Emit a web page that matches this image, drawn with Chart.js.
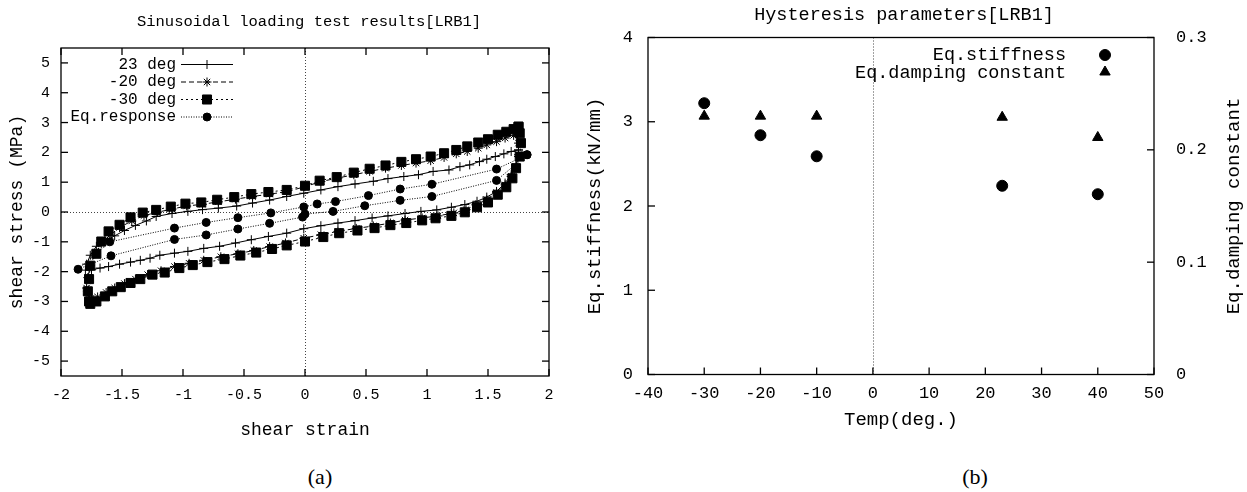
<!DOCTYPE html>
<html>
<head>
<meta charset="utf-8">
<script src="https://cdn.jsdelivr.net/npm/chart.js@4.4.1/dist/chart.umd.min.js"></script>
<style>
  html, body { margin: 0; padding: 0; background: #fff; }
  body { width: 1247px; height: 492px; position: relative; overflow: hidden; }
  .panel { position: absolute; top: 0; height: 450px; }
  #leftWrap { left: 0; width: 600px; }
  #rightWrap { left: 560px; width: 687px; }
  .cap { position: absolute; top: 464px; font-family: "Liberation Serif", serif; font-size: 22px; transform: translateX(-50%); }
</style>
</head>
<body>
<div class="panel" id="leftWrap"><canvas id="loops" width="600" height="450"></canvas></div>
<div class="panel" id="rightWrap"><canvas id="params" width="687" height="450"></canvas></div>
<div class="cap" style="left:320px">(a)</div>
<div class="cap" style="left:975px">(b)</div>
<script>
// (a) hysteresis loops: upper branch right->left, then lower branch left->right
const strain23 = [1.75, 1.69, 1.63, 1.56, 1.49, 1.43, 1.35, 1.27, 1.18, 1.05, 0.93, 0.81, 0.68, 0.56, 0.41, 0.27, 0.13, -0.01, -0.15, -0.29, -0.43, -0.56, -0.71, -0.84, -0.96, -1.09, -1.22, -1.30, -1.39, -1.48, -1.56, -1.64, -1.71, -1.76, -1.79, -1.80,
  -1.75, -1.68, -1.61, -1.52, -1.43, -1.35, -1.27, -1.19, -1.07, -0.96, -0.83, -0.70, -0.57, -0.44, -0.30, -0.15, -0.01, 0.13, 0.27, 0.41, 0.55, 0.68, 0.82, 0.95, 1.08, 1.20, 1.31, 1.41, 1.49, 1.57, 1.64, 1.69, 1.73, 1.75, 1.75];
const stress23 = [2.08, 2.03, 1.95, 1.86, 1.77, 1.69, 1.58, 1.52, 1.41, 1.36, 1.25, 1.19, 1.12, 1.03, 0.94, 0.85, 0.74, 0.63, 0.52, 0.40, 0.30, 0.20, 0.13, 0.08, 0.02, -0.05, -0.15, -0.30, -0.45, -0.62, -0.80, -0.97, -1.15, -1.45, -1.75, -1.95,
  -1.94, -1.88, -1.83, -1.75, -1.68, -1.62, -1.55, -1.45, -1.38, -1.32, -1.22, -1.15, -1.04, -0.93, -0.82, -0.71, -0.56, -0.46, -0.37, -0.29, -0.20, -0.13, -0.05, 0.02, 0.07, 0.16, 0.25, 0.36, 0.50, 0.69, 0.97, 1.25, 1.58, 1.86, 2.08];

const strainM20 = [1.74, 1.71, 1.64, 1.57, 1.49, 1.42, 1.33, 1.24, 1.14, 1.03, 0.91, 0.79, 0.66, 0.53, 0.40, 0.27, 0.13, 0.00, -0.15, -0.29, -0.43, -0.57, -0.71, -0.84, -0.97, -1.09, -1.21, -1.32, -1.42, -1.52, -1.60, -1.67, -1.72, -1.76, -1.78, -1.79, -1.78, -1.75,
  -1.70, -1.63, -1.56, -1.48, -1.39, -1.29, -1.18, -1.07, -0.95, -0.83, -0.69, -0.55, -0.42, -0.29, -0.16, -0.01, 0.13, 0.27, 0.42, 0.56, 0.70, 0.82, 0.96, 1.09, 1.22, 1.32, 1.40, 1.49, 1.57, 1.64, 1.69, 1.73, 1.75, 1.75, 1.74];
const stressM20 = [2.62, 2.57, 2.48, 2.36, 2.25, 2.14, 2.03, 1.95, 1.83, 1.72, 1.64, 1.56, 1.47, 1.36, 1.25, 1.14, 1.02, 0.85, 0.68, 0.60, 0.52, 0.43, 0.34, 0.26, 0.20, 0.10, -0.01, -0.12, -0.30, -0.52, -0.78, -1.06, -1.40, -1.80, -2.20, -2.55, -2.78, -2.88,
  -2.85, -2.70, -2.55, -2.40, -2.25, -2.10, -1.97, -1.83, -1.72, -1.62, -1.50, -1.40, -1.29, -1.16, -1.04, -0.88, -0.76, -0.65, -0.55, -0.47, -0.37, -0.27, -0.20, -0.13, -0.03, 0.08, 0.24, 0.41, 0.65, 0.91, 1.19, 1.52, 1.92, 2.31, 2.62];

const strainM30 = [1.75, 1.71, 1.65, 1.58, 1.50, 1.42, 1.33, 1.24, 1.14, 1.03, 0.91, 0.79, 0.66, 0.53, 0.40, 0.26, 0.12, 0.00, -0.15, -0.30, -0.44, -0.58, -0.72, -0.85, -0.98, -1.10, -1.22, -1.33, -1.43, -1.52, -1.61, -1.67, -1.71, -1.76, -1.77, -1.78, -1.77, -1.76,
  -1.71, -1.64, -1.58, -1.51, -1.43, -1.35, -1.25, -1.15, -1.03, -0.92, -0.80, -0.66, -0.53, -0.40, -0.27, -0.15, 0.00, 0.15, 0.28, 0.43, 0.57, 0.70, 0.83, 0.96, 1.07, 1.20, 1.31, 1.41, 1.50, 1.58, 1.65, 1.70, 1.73, 1.76, 1.77, 1.76, 1.75];
const stressM30 = [2.86, 2.78, 2.69, 2.59, 2.44, 2.33, 2.20, 2.08, 1.97, 1.86, 1.77, 1.68, 1.56, 1.45, 1.32, 1.17, 1.05, 0.88, 0.74, 0.67, 0.60, 0.50, 0.41, 0.32, 0.28, 0.18, 0.07, -0.02, -0.18, -0.43, -0.65, -0.99, -1.40, -1.80, -2.25, -2.66, -3.00, -3.08,
  -3.00, -2.83, -2.66, -2.52, -2.38, -2.25, -2.10, -2.03, -1.88, -1.78, -1.68, -1.58, -1.46, -1.36, -1.24, -1.12, -0.99, -0.84, -0.71, -0.62, -0.54, -0.44, -0.37, -0.28, -0.21, -0.13, -0.01, 0.16, 0.32, 0.58, 0.83, 1.13, 1.47, 1.86, 2.31, 2.64, 2.86];

const strainEq = [1.82, 1.57, 1.04, 0.78, 0.52, 0.25, 0.10, -0.01, -0.28, -0.55, -0.81, -1.07, -1.60, -1.86,
  -1.59, -1.07, -0.81, -0.55, -0.29, -0.02, 0.00, 0.23, 0.49, 0.78, 1.04, 1.57, 1.82];
const stressEq = [1.92, 1.44, 0.93, 0.77, 0.55, 0.35, 0.27, 0.17, -0.03, -0.19, -0.35, -0.54, -1.00, -1.92,
  -1.47, -0.92, -0.77, -0.57, -0.38, -0.17, -0.07, 0.02, 0.21, 0.39, 0.52, 1.06, 1.92];

const strainTicks = [-2, -1.5, -1, -0.5, 0, 0.5, 1, 1.5, 2];
const stressTicks = [-5, -4, -3, -2, -1, 0, 1, 2, 3, 4, 5];

// (b) hysteresis parameters
const tempDeg = [-30, -20, -10, 23, 40];
const eqStiffness = [3.22, 2.84, 2.59, 2.24, 2.14];
const eqDamping = [0.230, 0.230, 0.230, 0.229, 0.211];

const tempTicks = [-40, -30, -20, -10, 0, 10, 20, 30, 40, 50];
const stiffTicks = [0, 1, 2, 3, 4];
const dampTicks = [0, 0.1, 0.2, 0.3];

const MONO = '"Liberation Mono", "DejaVu Sans Mono", monospace';
Chart.defaults.color = '#000';
Chart.defaults.font.family = MONO;

function xy(xs, ys) { return xs.map((x, i) => ({ x: x, y: ys[i] })); }
function fixTicks(list) { return scale => { scale.ticks = list.map(v => ({ value: v })); }; }
function fixWidth(w) { return scale => { scale.width = w; }; }
function fixHeight(h) { return scale => { scale.height = h; }; }

function seg(ctx, x1, y1, x2, y2) {
  ctx.beginPath(); ctx.moveTo(x1, y1); ctx.lineTo(x2, y2); ctx.stroke();
}

// gnuplot look: closed frame, inward ticks, dotted zero axes, title and key drawn by hand
const gnuFrame = {
  id: 'gnuFrame',
  beforeDatasetsDraw(chart, args, o) {
    const { ctx, chartArea: a, scales } = chart;
    ctx.save();
    ctx.strokeStyle = '#444';
    ctx.lineWidth = 1;
    ctx.setLineDash([1, 2]);
    if (o.zeroX) {
      const px = Math.round(scales.x.getPixelForValue(0)) + 0.5;
      seg(ctx, px, a.top, px, a.bottom);
    }
    if (o.zeroY) {
      const py = Math.round(scales.y.getPixelForValue(0)) + 0.5;
      seg(ctx, a.left, py, a.right, py);
    }
    ctx.restore();
  },
  afterDatasetsDraw(chart, args, o) {
    const { ctx, chartArea: a, scales } = chart;
    const t = 7;
    ctx.save();
    ctx.strokeStyle = '#000';
    ctx.lineWidth = 1.3;
    ctx.strokeRect(a.left, a.top, a.right - a.left, a.bottom - a.top);
    scales.x.ticks.forEach(tk => {
      const px = scales.x.getPixelForValue(tk.value);
      seg(ctx, px, a.bottom, px, a.bottom - t);
      if (o.mirror) seg(ctx, px, a.top, px, a.top + t);
    });
    scales.y.ticks.forEach(tk => {
      const py = scales.y.getPixelForValue(tk.value);
      seg(ctx, a.left, py, a.left + t, py);
      if (o.mirror) seg(ctx, a.right, py, a.right - t, py);
    });
    if (scales.y2) {
      scales.y2.ticks.forEach(tk => {
        const py = scales.y2.getPixelForValue(tk.value);
        seg(ctx, a.right, py, a.right - t, py);
      });
    }

    // title
    ctx.fillStyle = '#000';
    ctx.font = o.titleSize + 'px ' + MONO;
    ctx.textAlign = 'center';
    ctx.textBaseline = 'middle';
    ctx.fillText(o.title, o.titleX, o.titleY);

    // right-hand axis title, read bottom to top like gnuplot's y2label
    if (o.y2Title) {
      ctx.save();
      ctx.font = o.y2TitleSize + 'px ' + MONO;
      ctx.translate(o.y2TitleX, (a.top + a.bottom) / 2);
      ctx.rotate(-Math.PI / 2);
      ctx.fillText(o.y2Title, 0, 0);
      ctx.restore();
    }

    // key
    ctx.font = o.keySize + 'px ' + MONO;
    ctx.textAlign = 'right';
    o.key.forEach((k, i) => {
      const y = o.keyY + i * o.keyDy;
      ctx.fillStyle = '#000';
      ctx.fillText(k.text, o.keyTextRight, y);
      ctx.strokeStyle = '#000';
      ctx.lineWidth = 1;
      if (k.dash) {
        ctx.setLineDash(k.dash);
        seg(ctx, o.keyLine[0], y, o.keyLine[1], y);
        ctx.setLineDash([]);
      }
      Chart.helpers.drawPoint(ctx, { pointStyle: k.style, radius: k.radius, rotation: 0, borderWidth: 1 },
        o.keyMark, y + (k.dy || 0));
    });
    ctx.restore();
  }
};

function loopSet(label, xs, ys, style, radius, dash, order) {
  return {
    label: label,
    data: xy(xs, ys),
    showLine: true,
    borderColor: '#000',
    backgroundColor: '#000',
    borderWidth: 1,
    borderDash: dash,
    pointStyle: style,
    pointRadius: radius,
    pointBorderWidth: 1,
    pointBackgroundColor: '#000',
    pointBorderColor: '#000',
    tension: 0,
    order: order
  };
}

const noGrid = { display: false, drawTicks: false };

new Chart(document.getElementById('loops'), {
  type: 'scatter',
  data: {
    datasets: [
      loopSet('23 deg', strain23, stress23, 'cross', 4.5, [], 3),
      loopSet('-20 deg', strainM20, stressM20, 'star', 4.5, [5, 3], 2),
      loopSet('-30 deg', strainM30, stressM30, 'rect', 6.4, [2, 3], 1),
      loopSet('Eq.response', strainEq, stressEq, 'circle', 4, [1, 1.5], 0)
    ]
  },
  options: {
    responsive: false,
    animation: false,
    layout: { padding: { left: 0, top: 48, right: 51, bottom: 4 } },
    plugins: {
      legend: { display: false },
      tooltip: { enabled: false },
      gnuFrame: {
        zeroX: true, zeroY: true, mirror: true,
        title: 'Sinusoidal loading test results[LRB1]', titleSize: 15.5, titleX: 309, titleY: 22,
        keySize: 16, keyTextRight: 176, keyLine: [181, 233], keyMark: 207, keyY: 64.5, keyDy: 17.5,
        key: [
          { text: '23 deg', dash: [1, 0], style: 'cross', radius: 4.5 },
          { text: '-20 deg', dash: [5, 3], style: 'star', radius: 4.5 },
          { text: '-30 deg', dash: [2, 3], style: 'rect', radius: 6.4 },
          { text: 'Eq.response', dash: [1, 1.5], style: 'circle', radius: 4 }
        ]
      }
    },
    scales: {
      x: {
        type: 'linear', position: 'bottom', min: -2, max: 2,
        afterBuildTicks: fixTicks(strainTicks),
        afterFit: fixHeight(70),
        grid: noGrid,
        border: { display: false },
        ticks: { padding: 10, font: { size: 15 }, callback: v => String(v) },
        title: { display: true, text: 'shear strain', font: { size: 18, lineHeight: 1 }, padding: { top: 0, bottom: 7 } }
      },
      y: {
        type: 'linear', position: 'left', min: -5.5, max: 5.5,
        afterBuildTicks: fixTicks(stressTicks),
        afterFit: fixWidth(61),
        grid: noGrid,
        border: { display: false },
        ticks: { padding: 11, font: { size: 15 }, callback: v => String(v) },
        title: { display: true, text: 'shear stress (MPa)', font: { size: 18, lineHeight: 1 }, padding: { top: 8, bottom: 0 } }
      }
    }
  },
  plugins: [gnuFrame]
});

new Chart(document.getElementById('params'), {
  type: 'scatter',
  data: {
    datasets: [
      {
        label: 'Eq.stiffness', data: xy(tempDeg, eqStiffness), yAxisID: 'y',
        pointStyle: 'circle', pointRadius: 5.5, pointBackgroundColor: '#000', pointBorderColor: '#000', pointBorderWidth: 1
      },
      {
        label: 'Eq.damping constant', data: xy(tempDeg, eqDamping), yAxisID: 'y2',
        pointStyle: 'triangle', pointRadius: 6, pointBackgroundColor: '#000', pointBorderColor: '#000', pointBorderWidth: 1
      }
    ]
  },
  options: {
    responsive: false,
    animation: false,
    layout: { padding: { left: 0, top: 37.5, right: 0, bottom: 5.5 } },
    plugins: {
      legend: { display: false },
      tooltip: { enabled: false },
      gnuFrame: {
        zeroX: true, zeroY: false, mirror: false,
        title: 'Hysteresis parameters[LRB1]', titleSize: 18.5, titleX: 344, titleY: 15,
        y2Title: 'Eq.damping constant', y2TitleSize: 19, y2TitleX: 674,
        keySize: 18.5, keyTextRight: 506, keyMark: 545, keyY: 55, keyDy: 18,
        key: [
          { text: 'Eq.stiffness', style: 'circle', radius: 5.5 },
          { text: 'Eq.damping constant', style: 'triangle', radius: 6, dy: -1 }
        ]
      }
    },
    scales: {
      x: {
        type: 'linear', position: 'bottom', min: -40, max: 50,
        afterBuildTicks: fixTicks(tempTicks),
        afterFit: fixHeight(70),
        grid: noGrid,
        border: { display: false },
        ticks: { padding: 9, font: { size: 17 }, callback: v => String(v) },
        title: { display: true, text: 'Temp(deg.)', font: { size: 19, lineHeight: 1 }, padding: { top: 0, bottom: 15 } }
      },
      y: {
        type: 'linear', position: 'left', min: 0, max: 4,
        afterBuildTicks: fixTicks(stiffTicks),
        afterFit: fixWidth(88),
        grid: noGrid,
        border: { display: false },
        ticks: { padding: 15, font: { size: 17 }, callback: v => String(v) },
        title: { display: true, text: 'Eq.stiffness(kN/mm)', font: { size: 19, lineHeight: 1 }, padding: { top: 25, bottom: 0 } }
      },
      y2: {
        type: 'linear', position: 'right', min: 0, max: 0.3,
        afterBuildTicks: fixTicks(dampTicks),
        afterFit: fixWidth(93),
        grid: noGrid,
        border: { display: false },
        ticks: { padding: 22, font: { size: 17 }, callback: v => String(v) },
        title: { display: false }
      }
    }
  },
  plugins: [gnuFrame]
});
</script>
</body>
</html>
